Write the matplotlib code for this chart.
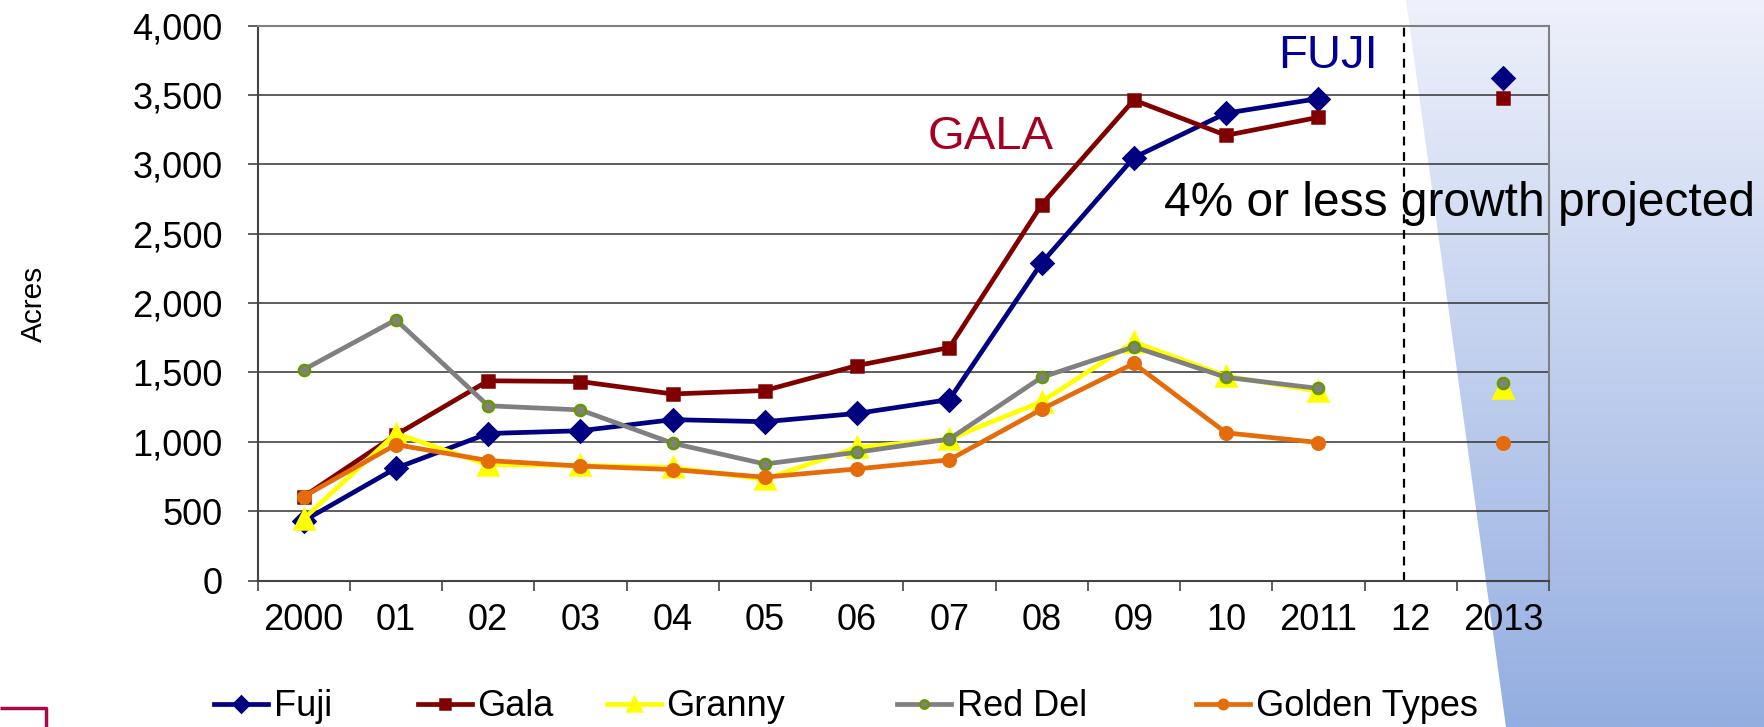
import matplotlib
matplotlib.use("Agg")
import matplotlib.pyplot as plt
import numpy as np
from matplotlib.patches import Polygon
from matplotlib.ticker import FuncFormatter

plt.rcParams['font.family'] = ['Liberation Sans', 'DejaVu Sans']

# categories (index 12 has no data)
years = ["2000", "01", "02", "03", "04", "05", "06", "07", "08", "09", "10", "2011", "12", "2013"]
nan = np.nan
fuji = [430, 810, 1060, 1080, 1160, 1145, 1205, 1305, 2290, 3050, 3370, 3475, nan, 3620]
gala = [605, 1050, 1440, 1435, 1345, 1370, 1550, 1680, 2710, 3465, 3210, 3340, nan, 3480]
granny = [445, 1060, 835, 830, 815, 730, 960, 1020, 1290, 1720, 1475, 1365, nan, 1385]
red_del = [1520, 1880, 1260, 1230, 990, 840, 925, 1020, 1465, 1685, 1465, 1385, nan, 1425]
golden = [605, 980, 865, 825, 800, 745, 805, 870, 1235, 1565, 1065, 995, nan, 995]

W, H = 1764, 727
fig = plt.figure(figsize=(W / 100, H / 100), dpi=100)
fig.patch.set_facecolor("white")

# gradient wedge on the right
bg = fig.add_axes([0, 0, 1, 1], zorder=0)
bg.set_xlim(0, W)
bg.set_ylim(H, 0)
bg.axis("off")
top = np.array([0xEE, 0xF1, 0xFB]) / 255
bot = np.array([0x94, 0xAE, 0xE1]) / 255
t = np.linspace(0, 1, 256)[:, None]
grad = (top[None, :] * (1 - t) + bot[None, :] * t)[:, None, :]
img = bg.imshow(grad, extent=(0, W, H, 0), aspect="auto", interpolation="bilinear")
wedge = Polygon([(1406, 0), (1506, H), (W, H), (W, 0)], closed=True, transform=bg.transData,
                facecolor="none", edgecolor="none")
bg.add_patch(wedge)
img.set_clip_path(wedge)
bg.plot([0, 46, 46], [708, 708, H], color="#A8094A", lw=2.5, solid_capstyle="butt")

ax = fig.add_axes([257.5 / W, 1 - 580.5 / H, (1549 - 257.5) / W, (580.5 - 25.8) / H], zorder=1)
ax.set_facecolor("none")

x = np.arange(len(years))
series = [
    ("Fuji", fuji, "#000080", "D", "#000080", 11),
    ("Gala", gala, "#800000", "s", "#800000", 9),
    ("Granny", granny, "#FFFF00", "^", "#FFFF00", 14),
    ("Red Del", red_del, "#808080", "o", "#669900", 8),
    ("Golden Types", golden, "#E46C0A", "o", "#E46C0A", 9),
]
handles = []
for name, vals, col, mk, mec, ms in series:
    line, = ax.plot(x, vals, color=col, lw=3.4, marker=mk, markersize=ms,
                    markerfacecolor=col, markeredgecolor=mec, markeredgewidth=1.8, label=name)
    handles.append(line)

ax.set_xlim(-0.5, len(years) - 0.5)
ax.set_ylim(0, 4000)
ax.set_yticks(np.arange(0, 4001, 500))
ax.yaxis.set_major_formatter(FuncFormatter(lambda v, p: f"{int(v):,}"))
ax.set_xticks(x)
ax.set_xticklabels(years)
ax.set_xticks(np.arange(-0.5, len(years), 1), minor=True)
ax.tick_params(axis="x", which="major", length=0, pad=16.5, labelsize=26)
ax.tick_params(axis="x", which="minor", length=7, width=1.2, color="#444444", direction="out")
ax.tick_params(axis="y", length=7, width=1.2, color="#444444", pad=18, labelsize=26)
ax.grid(axis="y", color="#333333", lw=1.1)
ax.set_axisbelow(True)
for s in ax.spines.values():
    s.set_color("#808080")
    s.set_linewidth(1.5)
ax.spines["left"].set_color("#444444")
ax.spines["bottom"].set_color("#444444")

ax.axvline(11.93, color="black", lw=1.6, ls=(0, (4, 3)))

ax.text(11.1, 3780, "FUJI", color="#000099", fontsize=34, ha="center", va="center")
ax.text(7.45, 3200, "GALA", color="#A50021", fontsize=34, ha="center", va="center")
ax.text(9.33, 2720, "4% or less growth projected", color="black", fontsize=34.5,
        ha="left", va="center", clip_on=False)

fig.text(34 / W, 1 - 304 / H, "Acres", rotation=90, fontsize=21.5, ha="center", va="center")

# legend entries spaced like the original
leg_x = [214, 418, 607, 897, 1196]
for h, lx in zip(handles, leg_x):
    fig.legend(handles=[h], loc="center left", bbox_to_anchor=(lx / W, 1 - 707 / H),
               frameon=False, fontsize=26, handlelength=1.5, handletextpad=0.15,
               borderpad=0, borderaxespad=0, numpoints=1, markerscale=0.75)

fig.savefig("out.png", dpi=100)
